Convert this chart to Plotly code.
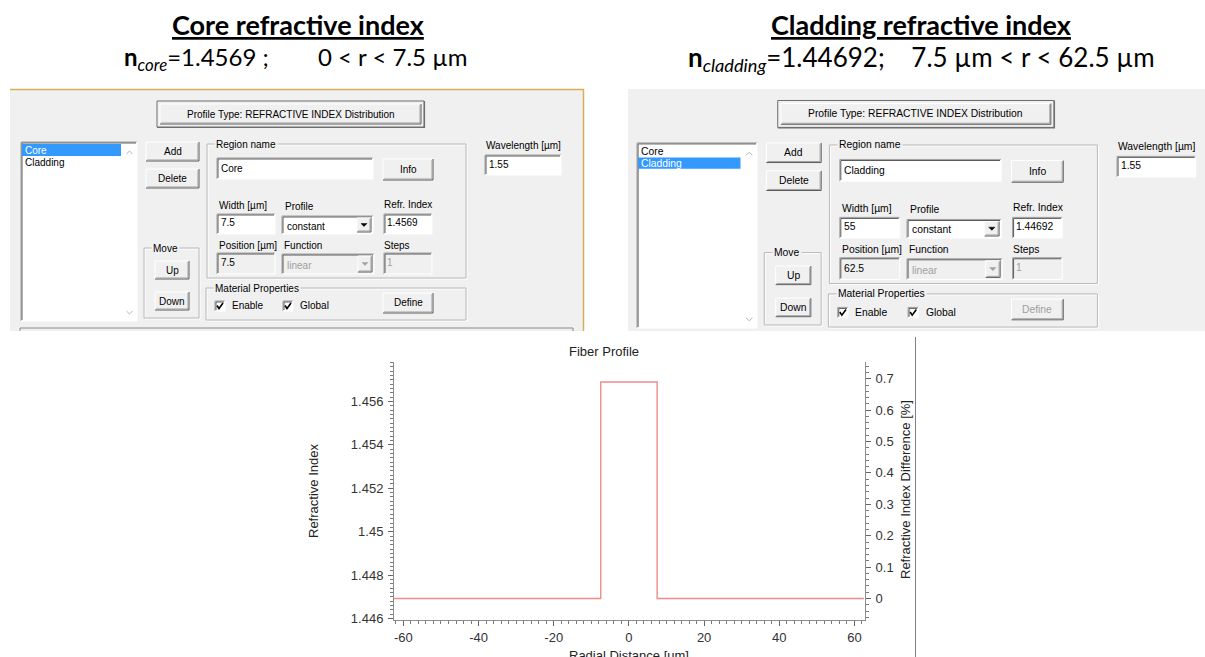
import plotly.graph_objects as go

# ---------------- data ----------------
n_core = 1.4569
n_clad = 1.44692
wavelength_um = "1.55"

radial_distance_um = [-62.5, -7.5, 7.5, 62.5]
refractive_index = [1.44692, 1.4569, 1.44692, 1.44692]

x_tick_vals = [-60, -40, -20, 0, 20, 40, 60]
x_tick_text = ["-60", "-40", "-20", "0", "20", "40", "60"]
y_tick_vals = [1.446, 1.448, 1.450, 1.452, 1.454, 1.456]
y_tick_text = ["1.446", "1.448", "1.45", "1.452", "1.454", "1.456"]
y2_tick_vals = [0, 0.1, 0.2, 0.3, 0.4, 0.5, 0.6, 0.7]
y2_tick_text = ["0", "0.1", "0.2", "0.3", "0.4", "0.5", "0.6", "0.7"]

region_names = ["Core", "Cladding"]
region_width_um = ["7.5", "55"]
region_position_um = ["7.5", "62.5"]
region_index_text = ["1.4569", "1.44692"]
header_titles = ["Core refractive index", "Cladding refractive index"]
header_subs = ["core", "cladding"]
header_ranges = ["0 &lt; r &lt; 7.5 \u00b5m", "7.5 \u00b5m &lt; r &lt; 62.5 \u00b5m"]

index_difference_pct = [(n - n_clad) / n_clad * 100 for n in refractive_index]

Y_RANGE = [1.44593, 1.45782]
Y2_RANGE = [(v - n_clad) / n_clad * 100 for v in Y_RANGE]
X_RANGE = [-62.5, 62.8]

# ---------------- helpers (pixel -> paper) ----------------
W, H = 1205, 657
UI = "Liberation Sans"
CH = "Liberation Sans"
HEAD = "Lato"
FACE = "#f0f0f0"
shapes, annotations = [], []


def fx(x):
    return x / W


def fy(y):
    return 1 - y / H


def rect(x0, y0, x1, y1, fill="rgba(0,0,0,0)", line=None, lw=1):
    shapes.append(dict(type="rect", xref="paper", yref="paper",
                       x0=fx(x0), x1=fx(x1), y0=fy(y1), y1=fy(y0),
                       fillcolor=fill,
                       line=dict(color=line or "rgba(0,0,0,0)", width=lw if line else 0),
                       layer="above"))


def poly(pts, color, lw=1, fill=None):
    d = "M " + " L ".join(f"{fx(x):.6f},{fy(y):.6f}" for x, y in pts)
    if fill:
        d += " Z"
    shapes.append(dict(type="path", xref="paper", yref="paper", path=d,
                       line=dict(color=color, width=lw),
                       fillcolor=fill or "rgba(0,0,0,0)", layer="above"))


def text(x, y, s, size, color="#000000", anchor="left", family=UI, bg=None, pad=0, angle=0, font_extra=None):
    f = dict(family=family, size=size, color=color)
    if font_extra:
        f.update(font_extra)
    a = dict(xref="paper", yref="paper", x=fx(x), y=fy(y), text=s, showarrow=False,
             xanchor=anchor, yanchor="middle", font=f, borderpad=pad, textangle=angle)
    if bg:
        a["bgcolor"] = bg
    annotations.append(a)


def dialog(sel, ox, oy, s, define_enabled, bottom_panel):
    X = lambda x: ox + s * x
    Y = lambda y: oy + s * y
    fs = 10 * s

    def R(x0, y0, x1, y1, **kw):
        rect(X(x0), Y(y0), X(x1), Y(y1), **kw)

    def P(pts, c, lw=1, fill=None):
        poly([(X(a), Y(b)) for a, b in pts], c, lw, fill)

    def T(x, y, t, color="#000000", anchor="left", bg=None, pad=0):
        text(X(x), Y(y), t, fs, color, anchor, bg=bg, pad=pad)

    def raised(x0, y0, x1, y1, fill=FACE):
        R(x0, y0, x1, y1, fill=fill)
        P([(x0, y1), (x0, y0), (x1, y0)], "#ffffff")
        P([(x0, y1), (x1, y1), (x1, y0)], "#5a5a5a")
        P([(x0 + 1, y1 - 1), (x1 - 1, y1 - 1), (x1 - 1, y0 + 1)], "#a0a0a0")

    def sunken(x0, y0, x1, y1, fill="#ffffff"):
        R(x0, y0, x1, y1, fill=fill)
        P([(x0, y1), (x0, y0), (x1, y0)], "#a0a0a0")
        P([(x0 + 1, y1 - 1), (x0 + 1, y0 + 1), (x1 - 1, y0 + 1)], "#5a5a5a")
        P([(x0, y1), (x1, y1), (x1, y0)], "#ffffff")

    def group(x0, y0, x1, y1, label, lx):
        R(x0 + 1, y0 + 1, x1 + 1, y1 + 1, line="#ffffff")
        R(x0, y0, x1, y1, line="#b9b9b9")
        T(lx, y0, label, bg=FACE, pad=1)

    def button(x0, y0, x1, y1, label, enabled=True):
        raised(x0, y0, x1, y1)
        T((x0 + x1) / 2, (y0 + y1) / 2, label, "#000000" if enabled else "#a0a0a0", "center")

    def combo(x0, y0, x1, y1, label, enabled=True):
        sunken(x0, y0, x1, y1, "#ffffff" if enabled else FACE)
        raised(x1 - 16, y0 + 2, x1 - 2, y1 - 2)
        cx, cy = x1 - 9, (y0 + y1) / 2
        c = "#000000" if enabled else "#a0a0a0"
        P([(cx - 3, cy - 1.5), (cx + 3, cy - 1.5), (cx, cy + 1.5)], c, 0.5, c)
        T(x0 + 4, (y0 + y1) / 2 + 1, label, "#000000" if enabled else "#a0a0a0")

    def check(x0, y0, label):
        sunken(x0, y0, x0 + 10, y0 + 10)
        P([(x0 + 2, y0 + 4.5), (x0 + 4, y0 + 7.5), (x0 + 8, y0 + 2)], "#000000", 1.6)
        T(x0 + 16, y0 + 4.5, label)

    # Profile type frame
    R(157, 101, 424, 127, fill=FACE, line="#6e6e6e")
    raised(160, 104, 421, 124)
    P([(157, 127.5), (424.5, 127.5), (424.5, 101)], "#6e6e6e", 1.2)
    T(290.5, 114, "Profile Type: REFRACTIVE INDEX Distribution", anchor="center")

    # list box
    sunken(21, 142, 137, 321)
    R(22, 144 + 12 * sel, 121, 156 + 11 * sel, fill="#3399ff")
    for i, nm in enumerate(region_names):
        T(24, 150 + 12 * i, nm, "#ffffff" if i == sel else "#000000")
    P([(126.5, 154), (129.5, 151), (132.5, 154)], "#b4b4b4", 1)
    P([(126.5, 311), (129.5, 314), (132.5, 311)], "#b4b4b4", 1)

    button(146, 142, 199, 161, "Add")
    button(146, 169, 199, 188, "Delete")

    # region group
    group(207, 144, 466, 278, "Region name", 214)
    sunken(217, 158, 373, 179)
    T(220, 168.5, region_names[sel])
    button(383, 159, 433, 180, "Info")

    T(218, 205, "Width [\u00b5m]")
    sunken(217, 214, 275, 234)
    T(220, 223, region_width_um[sel])
    T(284, 206, "Profile")
    combo(282, 216, 373, 234, "constant")
    T(383, 204, "Refr. Index")
    sunken(384, 214, 432, 234)
    T(386, 223, region_index_text[sel])

    T(218, 245, "Position [\u00b5m]")
    sunken(217, 253, 275, 274, FACE)
    T(220, 263, region_position_um[sel])
    T(283, 245, "Function")
    combo(282, 254, 374, 274, "linear", enabled=False)
    T(383, 245, "Steps")
    sunken(384, 253, 432, 274, FACE)
    T(386, 262, "1", "#a0a0a0")

    # move group
    group(144, 248, 199, 318, "Move", 151)
    button(155, 261, 189, 279, "Up")
    button(155, 292, 189, 310, "Down")

    # material properties
    group(206, 288, 466, 320, "Material Properties", 213)
    check(215, 301, "Enable")
    check(283, 301, "Global")
    button(383, 293, 433, 313, "Define", define_enabled)

    # wavelength
    T(485, 145, "Wavelength [\u00b5m]")
    sunken(485, 155, 561, 175)
    T(488, 164, wavelength_um)

    if bottom_panel:
        P([(20, 331), (20, 328), (573, 328), (573, 331)], "#8a8a8a", 1)


# ---------------- dialog backgrounds ----------------
rect(10, 89, 584, 331, fill=FACE)
rect(628, 89, 1205, 331, fill=FACE)
poly([(10, 89.5), (583.5, 89.5), (583.5, 331)], "#d8ae5a", 1.5)

dialog(0, 0.0, 0.0, 1.0, True, True)
dialog(1, 615.3, -4.0, 1.0345, False, False)

# ---------------- headers ----------------
head_x = [298.5, 921.5]
nb = "\u00a0"
for i in range(2):
    text(head_x[i], 24, f"<b>{header_titles[i]}</b>", 27, family=HEAD, anchor="center",
         font_extra=dict(lineposition="under"))
line2 = [
    f"<b>n</b><sub><i>{header_subs[0]}</i></sub>={n_core} ;{nb * 8}{header_ranges[0]}",
    f"<b>n</b><sub><i>{header_subs[1]}</i></sub>={n_clad};{nb * 4}{header_ranges[1]}",
]
text(296, 58, line2[0], 24, family=HEAD, anchor="center")
text(922, 58, line2[1], 26, family=HEAD, anchor="center")

# ---------------- chart ----------------
fig = go.Figure()
fig.add_trace(go.Scatter(x=radial_distance_um, y=refractive_index, mode="lines",
                         line=dict(color="#f08c8c", width=1.4, shape="hv"),
                         hoverinfo="skip", showlegend=False))
fig.add_trace(go.Scatter(x=radial_distance_um, y=index_difference_pct, yaxis="y2", mode="lines",
                         line=dict(color="rgba(0,0,0,0)", width=0, shape="hv"),
                         hoverinfo="skip", showlegend=False))

tickfont = dict(family=CH, size=13, color="#333333")
common = dict(showgrid=False, zeroline=False, showline=True, linecolor="#8c8c8c", linewidth=1,
              ticks="outside", ticklen=5, tickcolor="#666666", tickfont=tickfont, fixedrange=True,
              automargin=False)

fig.update_layout(
    width=W, height=H, margin=dict(l=0, r=0, t=0, b=0, pad=0, autoexpand=False),
    paper_bgcolor="#ffffff", plot_bgcolor="#ffffff", showlegend=False,
    xaxis=dict(domain=[394 / W, 865 / W], range=X_RANGE, tickmode="array",
               tickvals=x_tick_vals, ticktext=x_tick_text, anchor="y",
               minor=dict(tickmode="linear", tick0=0, dtick=2, ticks="outside", ticklen=3,
                          tickcolor="#7a7a7a", showgrid=False), **common),
    yaxis=dict(domain=[1 - 620 / H, 1 - 362 / H], range=Y_RANGE, tickmode="array",
               tickvals=y_tick_vals, ticktext=y_tick_text, anchor="x", ticklabelstandoff=2,
               minor=dict(tickmode="linear", tick0=1.446, dtick=0.0002, ticks="outside", ticklen=3,
                          tickcolor="#7a7a7a", showgrid=False), **common),
    yaxis2=dict(overlaying="y", side="right", anchor="x", range=Y2_RANGE, tickmode="array",
                tickvals=y2_tick_vals, ticktext=y2_tick_text, ticklabelstandoff=2,
                minor=dict(tickmode="linear", tick0=0, dtick=0.02, ticks="outside", ticklen=3,
                           tickcolor="#7a7a7a", showgrid=False), **common),
)

# chart titles
text(604, 351, "Fiber Profile", 13, "#222222", "center", family=CH)
text(313, 491, "Refractive Index", 13, "#222222", "center", family=CH, angle=-90)
text(905, 490, "Refractive Index Difference [%]", 13, "#222222", "center", family=CH, angle=-90)
text(629, 655, "Radial Distance [um]", 13, "#222222", "center", family=CH)
# chart window right border
poly([(915.5, 337), (915.5, 657)], "#808080", 1)
fig.update_layout(shapes=shapes, annotations=annotations)

fig.write_html("out.html")
